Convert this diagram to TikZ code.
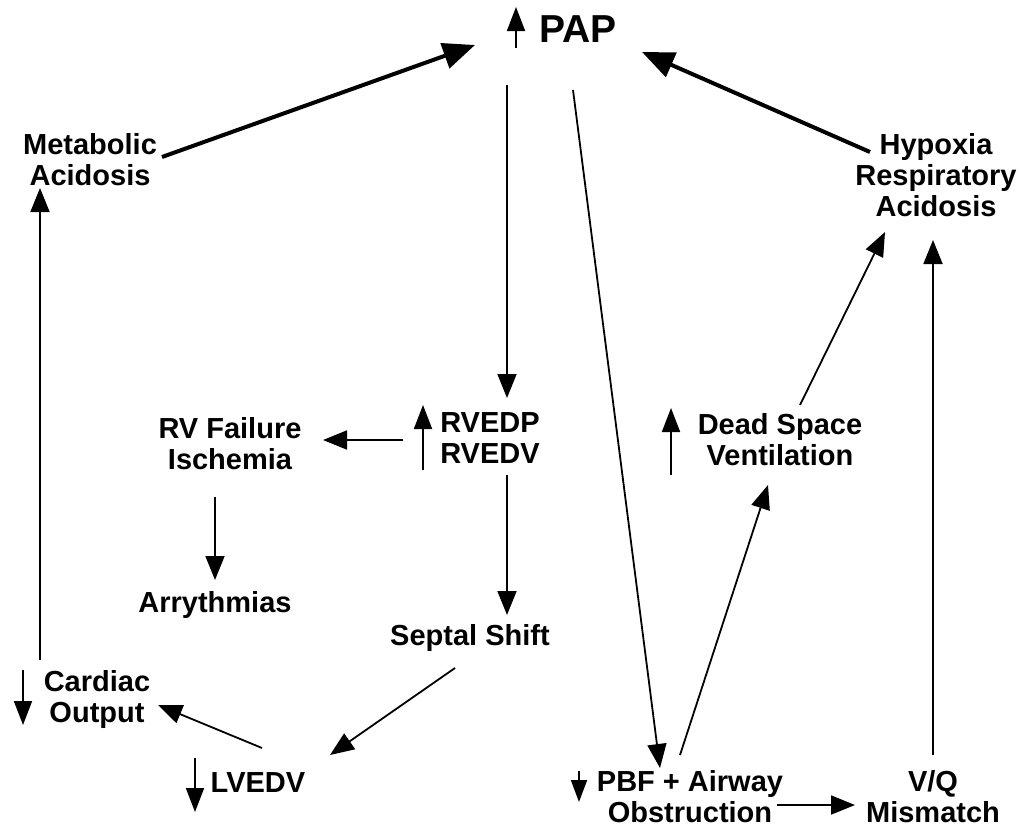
\documentclass[tikz,border=0pt]{standalone}
\usepackage{fontspec}
\setmainfont{Liberation Sans}
\usetikzlibrary{arrows.meta}

\tikzset{
  lbl/.style={font=\fontsize{29}{31}\selectfont\bfseries, align=center, inner sep=0pt},
  link/.style={-{Triangle[length=24pt,width=19pt]}, line width=1.8pt},
  bold link/.style={-{Triangle[length=32pt,width=26pt]}, line width=4pt},
  ind/.style={-{Triangle[length=24pt,width=18pt]}, line width=1.8pt}
}

\begin{document}
\begin{tikzpicture}[x=1pt, y=-1pt]
        \useasboundingbox[fill=white] (0,0) rectangle (1033,827);

        % Top node
        \node[lbl, font=\fontsize{39}{41}\selectfont\bfseries] (pap) at (578,29) {PAP};
        \draw[ind] ([shift={(-62,19)}]pap.center) -- ([shift={(-62,-22)}]pap.center);

        % Causes of PAP
        \node[lbl] (meta) at (90,160) {Metabolic\\Acidosis};
        \node[lbl] (hyp) at (936,175) {Hypoxia\\Respiratory\\Acidosis};
        \draw[bold link] ([shift={(72,-3)}]meta.center) -- ([shift={(-103,16)}]pap.center);
        \draw[bold link] ([shift={(-66,-23)}]hyp.center) -- ([shift={(64,23)}]pap.center);

        % Right ventricle
        \node[lbl] (rv) at (490,438) {RVEDP\\RVEDV};
        \draw[ind] ([shift={(-67,32)}]rv.center) -- ([shift={(-67,-33)}]rv.center);
        \draw[link] ([shift={(-71,56)}]pap.center) -- ([shift={(17,-40)}]rv.center);

        \node[lbl] (rvfail) at (230,444) {RV Failure\\Ischemia};
        \draw[link] ([shift={(-87,2)}]rv.center) -- ([shift={(93,-4)}]rvfail.center);

        \node[lbl] (arry) at (215,605) {Arrythmias};
        \draw[link] ([shift={(-15,53)}]rvfail.center) -- ([shift={(0,-25)}]arry.center);

        \node[lbl] (septal) at (470,638) {Septal Shift};
        \draw[link] ([shift={(17,37)}]rv.center) -- ([shift={(37,-23)}]septal.center);

        % Left side
        \node[lbl] (lvedv) at (258,783) {LVEDV};
        \draw[ind] ([shift={(-63,-25)}]lvedv.center) -- ([shift={(-63,29)}]lvedv.center);
        \draw[link] ([shift={(-15,30)}]septal.center) -- ([shift={(72,-28)}]lvedv.center);

        \node[lbl] (cardiac) at (97,699) {Cardiac\\Output};
        \draw[ind] ([shift={(-74,-29)}]cardiac.center) -- ([shift={(-74,26)}]cardiac.center);
        \draw[link] ([shift={(4,-35)}]lvedv.center) -- ([shift={(61,6)}]cardiac.center);
        \draw[link] ([shift={(-57,-39)}]cardiac.center) -- ([shift={(-50,28)}]meta.center);

        % Right side
        \node[lbl] (pbf) at (690,797) {PBF + Airway\\Obstruction};
        \draw[-{Triangle[length=22pt,width=16pt]}, line width=1.8pt] ([shift={(-111,-26)}]pbf.center) -- ([shift={(-111,5)}]pbf.center);
        \draw[link] ([shift={(-5,61)}]pap.center) -- ([shift={(-30,-29)}]pbf.center);

        \node[lbl] (dead) at (780,440) {Dead Space\\Ventilation};
        \draw[ind] ([shift={(-109,35)}]dead.center) -- ([shift={(-109,-32)}]dead.center);
        \draw[link] ([shift={(-10,-42)}]pbf.center) -- ([shift={(-12,45)}]dead.center);
        \draw[link] ([shift={(20,-35)}]dead.center) -- ([shift={(-51,57)}]hyp.center);

        \node[lbl] (vq) at (933,797) {V/Q\\Mismatch};
        \draw[link] ([shift={(87,8)}]pbf.center) -- ([shift={(-78,8)}]vq.center);
        \draw[link] ([shift={(0,-42)}]vq.center) -- ([shift={(-3,65)}]hyp.center);
    \end{tikzpicture}
\end{document}
